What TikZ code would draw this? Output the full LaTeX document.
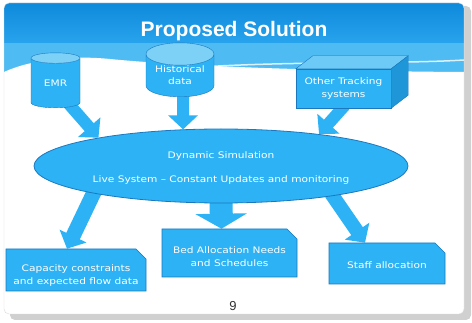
\documentclass[tikz,border=0pt]{standalone}
\usepackage{fontspec}
\usepackage{tikz}
\usetikzlibrary{positioning, arrows.meta, shapes.geometric, shapes.misc, calc}
\newfontfamily\slidefont[FakeStretch=1.18]{DejaVu Sans}
\newfontfamily\titlefont{Liberation Sans}
\newcommand{\topgap}[1]{\rule{0pt}{#1}}
\definecolor{skyfill}{RGB}{44,178,245}
\definecolor{skyline}{RGB}{28,120,190}
\definecolor{skytop}{RGB}{125,208,246}
\definecolor{skyside}{RGB}{30,150,215}
\definecolor{headtop}{RGB}{14,138,220}
\definecolor{headmid}{RGB}{40,163,236}
\definecolor{headband}{RGB}{78,188,243}
\definecolor{shadowgray}{RGB}{208,208,208}
\definecolor{slideedge}{RGB}{218,218,218}
\pgfdeclarelayer{slide}
\pgfdeclarelayer{under}
\pgfsetlayers{slide,under,main}

\begin{document}
\begin{tikzpicture}[
  x=1pt, y=-1pt,
  lbl/.style={text=white, font=\slidefont\fontsize{9}{13}\selectfont, align=center},
  store/.style={lbl, font=\slidefont\fontsize{9}{12}\selectfont,
                cylinder, shape border rotate=90, aspect=0.45, anchor=south,
                draw=skyline, cylinder uses custom fill,
                cylinder body fill=skyfill, cylinder end fill=skytop,
                inner sep=0pt},
  sim/.style={lbl, ellipse, draw=skyline, line width=0.8pt, fill=skyfill,
              minimum width=374pt, minimum height=74pt},
  outbox/.style={lbl, chamfered rectangle, chamfered rectangle corners=north east,
                 chamfered rectangle xsep=5pt, chamfered rectangle ysep=5pt,
                 draw=skyline, line width=0.6pt, fill=skyfill, inner sep=0pt},
  arr/.style={skyfill, line width=#1, -{Triangle[width=29pt, length=14pt]}},
  arr/.default=12pt
]
\useasboundingbox (0,0) rectangle (472,323);

% slide and header
\begin{pgfonlayer}{slide}
\fill[shadowgray, rounded corners=5pt] (10,6) rectangle (471,320);
\fill[white, rounded corners=5pt] (4,3) rectangle (464,314);
\begin{scope}
  \clip[rounded corners=5pt] (4,3) rectangle (464,314);
  \shade[top color=headtop, bottom color=headmid] (4,3) rectangle (464,43);
  \fill[headband] (4,43) rectangle (464,76);
  \fill[white] (4,72) .. controls (30,60) and (70,55) .. (110,59)
    .. controls (170,65) and (300,71) .. (464,72)
    -- (464,314) -- (4,314) -- cycle;
  \draw[white, line width=1.5pt, opacity=0.8] (200,67) .. controls (300,61) and (400,64) .. (464,60);
\end{scope}
\draw[slideedge, rounded corners=5pt] (4,3) rectangle (464,314);
\end{pgfonlayer}

\node[text=white, font=\titlefont\bfseries\fontsize{21}{24}\selectfont] (title) at (234,31) {Proposed Solution};

% sources
\node[store, minimum width=49pt, minimum height=55pt] (emr) at (55.5,108) {EMR};
\node[store, minimum width=68pt, minimum height=54pt] (hist) at (180,97) {Historical\\data};
\node[lbl, fill=skyfill, draw=skyline, minimum width=95pt, minimum height=39pt] (other) at (343.5,88.5) {Other Tracking\\systems};
\fill[skytop!80!skyfill, draw=skyline] (other.north west) -- ++(17,-13) -- ($(other.north east)+(17,-13)$) -- (other.north east) -- cycle;
\fill[skyside, draw=skyline] (other.north east) -- ++(17,-13) -- ($(other.south east)+(17,-13)$) -- (other.south east) -- cycle;

% simulation
\node[sim] (sim) at (221,166) {\topgap{10pt}Dynamic Simulation\\[11pt]Live System – Constant Updates and monitoring};

% outputs
\node[outbox, minimum width=140pt, minimum height=42pt] (cap) at (76,270) {\topgap{17pt}Capacity constraints\\and expected flow data};
\node[outbox, minimum width=135pt, minimum height=48pt] (bed) at (229.5,253) {\topgap{15pt}Bed Allocation Needs\\and Schedules};
\node[outbox, minimum width=116pt, minimum height=41pt] (staff) at (387,263.5) {\topgap{11pt}Staff allocation};

\node[text=black!80, font=\titlefont\fontsize{13}{15}\selectfont] (page) at (233,306) {9};

\begin{pgfonlayer}{under}
\draw[arr] ($(emr.south)+(12.5,-5)$) -- (sim.167);
\draw[arr] ($(hist.south)+(3,-4)$) -- (sim.136);
\draw[arr] ($(other.south)+(1.5,-3)$) -- (sim.18);
\draw[arr=15pt] ($(sim.center)!0.94!(sim.191)$) -- ($(cap.north)+(-9,0)$);
\draw[arr=23pt, -{Triangle[width=51pt, length=15pt]}] ($(sim.south)+(0,-6)$) -- ($(bed.north)+(-8,0)$);
\draw[arr=14pt] ($(sim.center)!0.94!(sim.-14)$) -- ($(staff.north)+(-22,0)$);
\end{pgfonlayer}
\end{tikzpicture}
\end{document}
